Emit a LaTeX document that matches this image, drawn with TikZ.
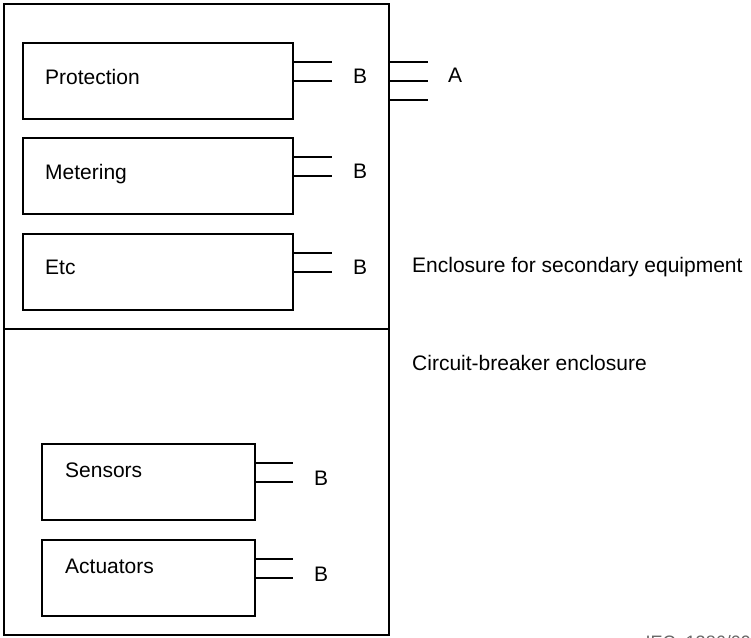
\documentclass[tikz,border=0pt]{standalone}
\usepackage{fontspec}
\setmainfont{Liberation Sans}
\usetikzlibrary{positioning}
\tikzset{
  encl/.style={draw, line width=1.6pt, minimum width=385pt, anchor=north west, inner sep=0pt, outer sep=0pt},
  unit/.style={draw, line width=1.6pt, minimum width=270pt, minimum height=76pt, anchor=north west, inner sep=0pt, outer sep=0pt},
  stub/.style={line width=1.6pt},
  lbl/.style={anchor=base west, inner sep=0pt, font=\fontsize{21}{25}\selectfont},
}
\begin{document}
\begin{tikzpicture}[x=1pt,y=1pt]
    \useasboundingbox (0,0) rectangle (751,637);
    % Enclosures
    \node[encl, minimum height=325pt] (sec) at (4,633) {};
    \node[encl, minimum height=306pt] (cb) at (4,308) {};
    \node[lbl] (sec-txt) at (412,364) {Enclosure for secondary equipment};
    \node[lbl] (cb-txt) at (412,266) {Circuit-breaker enclosure};

    % Secondary units
    \node[unit] (prot) at (23,594) {};
    \node[unit, below=19pt of prot] (meter) {};
    \node[unit, below=20pt of meter] (etc) {};
    \node[lbl] at ([shift={(22,-42)}]prot.north west) {Protection};
    \node[lbl] at ([shift={(22,-42)}]meter.north west) {Metering};
    \node[lbl] at ([shift={(22,-41)}]etc.north west) {Etc};

    % Circuit-breaker units
    \node[unit, minimum width=213pt] (sens) at (42,193) {};
    \node[unit, minimum width=213pt, below=20pt of sens] (act) {};
    \node[lbl] at ([shift={(23,-33)}]sens.north west) {Sensors};
    \node[lbl] at ([shift={(23,-33)}]act.north west) {Actuators};

    % Interfaces B
    \foreach \u/\len in {prot/39,meter/39,etc/39,sens/38,act/38} {
        \draw[stub] ([yshift=-19pt]\u.north east) -- ++(\len,0) coordinate (\u-b1);
        \draw[stub] ([yshift=-38pt]\u.north east) -- ++(\len,0) coordinate (\u-b2);
        \node[lbl] (\u-B) at ([shift={(21,-3)}]\u-b2) {B};
    }

    % Interface A
    \foreach \i/\dy in {1/58,2/77,3/96}
        \draw[stub] ([yshift=-\dy pt]sec.north east) -- ++(39,0) coordinate (a\i);
    \node[lbl] (A) at ([shift={(20,-2)}]a2) {A};

    \node[anchor=north east, inner sep=0pt, font=\fontsize{18}{20}\selectfont, text=black!60] (tag) at (751,2) {IEC\ \ 1386/09};
\end{tikzpicture}
\end{document}
